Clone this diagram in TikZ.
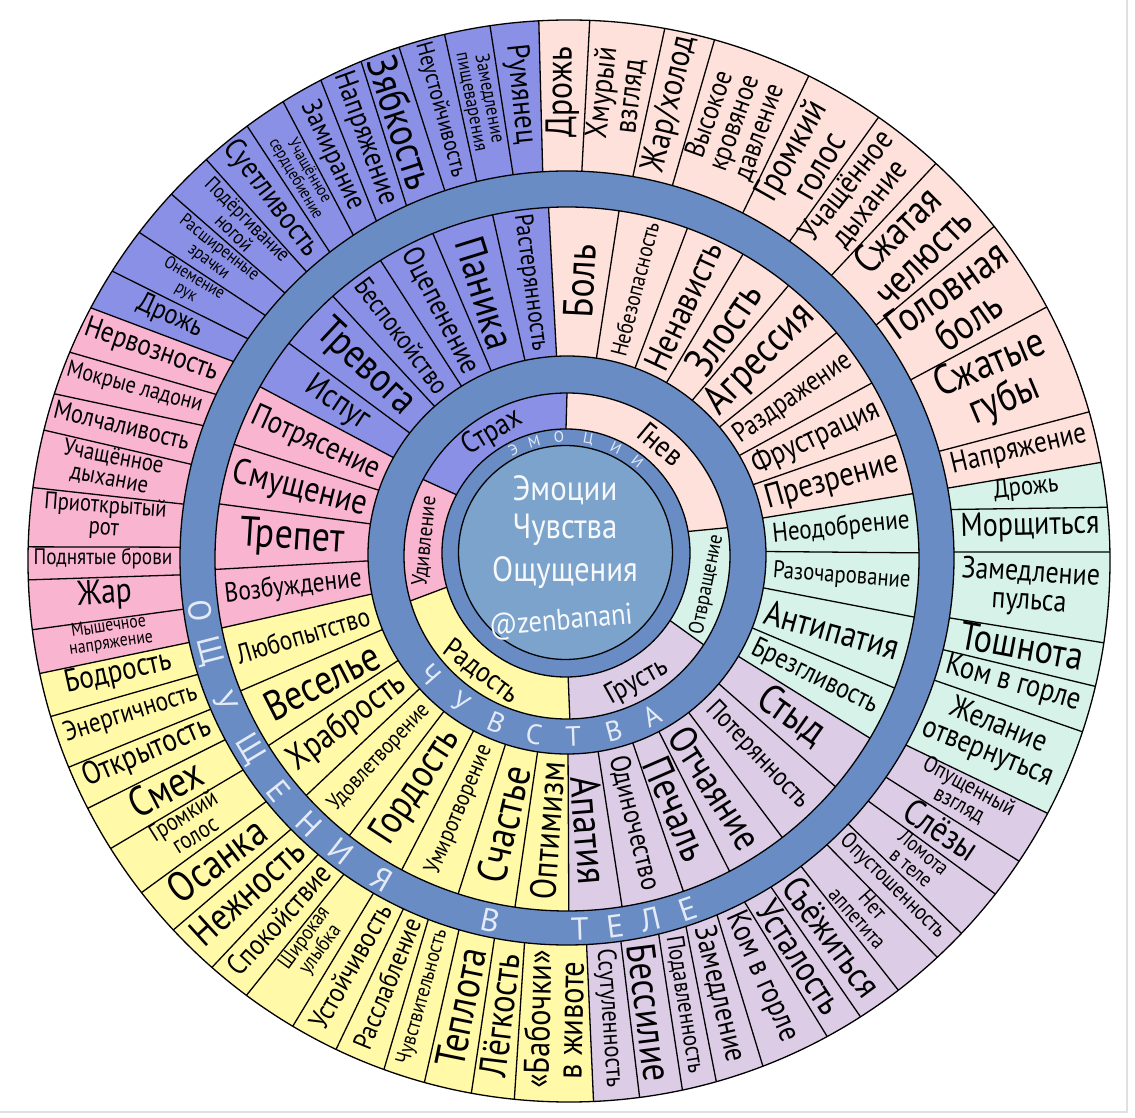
\documentclass[tikz,border=0pt]{standalone}
\usepackage{fontspec}
\setmainfont{PT Sans}
\usepackage{graphicx}
\definecolor{cfear}{HTML}{8B90E7}
\definecolor{canger}{HTML}{FEE1DA}
\definecolor{cdisg}{HTML}{D6F2E9}
\definecolor{csad}{HTML}{DCCCE5}
\definecolor{cjoy}{HTML}{FFF9A8}
\definecolor{csurp}{HTML}{F9B4CF}
\definecolor{ringb}{HTML}{6A8CC5}
\definecolor{coreb}{HTML}{7BA3CB}
\definecolor{rtext}{HTML}{E4EBF6}
\newcommand\efont[1]{\fontsize{#1}{#1}\selectfont}
\newsavebox\lbox
\newdimen\lbw \newdimen\lbh
% #1 o1 #2 o2 #3 i1 #4 i2 #5 rin #6 rout #7 text
\newcommand\wlab[7]{%
 \pgfmathsetmacro\oam{(#1+#2)/2}%
 \pgfmathsetmacro\iam{(#3+#4)/2}%
 \pgfmathsetmacro\xin{#5*cos(\iam)}%
 \pgfmathsetmacro\yin{#5*sin(\iam)}%
 \pgfmathsetmacro\xou{#6*cos(\oam)}%
 \pgfmathsetmacro\you{#6*sin(\oam)}%
 \pgfmathsetmacro\ldir{atan2(\you-\yin,\xou-\xin)}%
 \pgfmathsetmacro\ldirp{mod(\ldir+720,360)}%
 \pgfmathsetmacro\lrot{ifthenelse(\ldirp>91,ifthenelse(\ldirp<271,\ldirp-180,\ldirp),\ldirp)}%
 \pgfmathsetmacro\llen{veclen(\xou-\xin,\you-\yin)}%
 \pgfmathsetmacro\lwid{(#5+#6)/2*0.0087266*((#2-#1)+(#4-#3))}%
 \node[inner sep=0pt,outer sep=0pt] at (0,0) {\global\setbox\lbox=\hbox{\vbox{\fontsize{10}{9.2}\selectfont\lineskiplimit=-5pt\halign{\hfil##\hfil\cr #7\crcr}}}};%
 \global\lbw=\wd\lbox \global\lbh=\ht\lbox \global\advance\lbh by \dp\lbox
 \ifdim\lbw<1pt \global\lbw=40pt\fi
 \ifdim\lbh<1pt \global\lbh=8pt\fi
 \pgfmathsetmacro\lwn{\lbw}%
 \pgfmathsetmacro\lhn{\lbh}%
 \pgfmathsetmacro\ltf{ifthenelse(\lhn>14,0.86,0.74)}%
 \pgfmathsetmacro\lsc{min(0.9*\llen/(0.85*\lwn),\ltf*\lwid/\lhn,4.2)}%
 \pgfmathsetmacro\lscx{0.85*\lsc}%
 \node[rotate=\lrot,inner sep=0pt] at ({(\xin+\xou)/2},{(\yin+\you)/2}) {\scalebox{\lscx}[\lsc]{\usebox\lbox}};%
}
\newcommand\snl[5]{\wlab{#1}{#2}{#3}{#4}{387}{541}{#5}}
\newcommand\fel[3]{\wlab{#1}{#2}{#1}{#2}{199}{352}{#3}}
% color, Ci, ri, Co, ro, o1, o2, i1, i2
\newcommand\gfill[9]{\fill[#1] ([shift={(#2)}]#8:#3) -- ([shift={(#4)}]#6:#5) arc[start angle=#6,end angle=#7,radius=#5] -- ([shift={(#2)}]#9:#3) arc[start angle=#9,end angle=#8,radius=#3] -- cycle;}
\begin{document}
\begin{tikzpicture}[x=1pt,y=1pt,
  sep/.style={line width=1.3pt,draw=black},
  rlet/.style={text=rtext,inner sep=0pt},
  ctext/.style={text=white!94!coreb,inner sep=0pt}]
\fill[white] (-567,-562) rectangle (568,556);
\useasboundingbox (-567,-562) rectangle (568,556);
\draw[black!12,line width=1.5pt] (560,556) -- (560,-556) -- (-567,-556);
\coordinate (C6) at (2,-5);
\coordinate (C5) at (0,-2);
\coordinate (C4) at (0,-3);
\coordinate (C3) at (0,1);
\coordinate (C2) at (0,0);
\coordinate (C1) at (-1,3);
\coordinate (C0) at (-1.5,3.5);
% sensations ring
\gfill{canger}{C5}{387}{C6}{541}{10.5}{93.2}{10.4}{93.6}
\gfill{cfear}{C5}{387}{C6}{541}{93.2}{152.1}{93.6}{149.5}
\gfill{csurp}{C5}{387}{C6}{541}{152.1}{192}{149.5}{192.6}
\gfill{cjoy}{C5}{387}{C6}{541}{192}{272.6}{192.6}{272.9}
\gfill{csad}{C5}{387}{C6}{541}{272.6}{332.2}{272.9}{331.1}
\gfill{cdisg}{C5}{387}{C6}{541}{332.2}{370.5}{331.1}{370.4}
\fill[ringb,even odd rule] (C5) circle[radius=387] (C4) circle[radius=352];
% feelings ring
\gfill{canger}{C3}{199}{C4}{352}{10.7}{93}{10.7}{93}
\gfill{cfear}{C3}{199}{C4}{352}{93}{150.7}{93}{150.7}
\gfill{csurp}{C3}{199}{C4}{352}{150.7}{191.3}{150.7}{191.3}
\gfill{cjoy}{C3}{199}{C4}{352}{191.3}{270.3}{191.3}{270.3}
\gfill{csad}{C3}{199}{C4}{352}{270.3}{329.4}{270.3}{329.4}
\gfill{cdisg}{C3}{199}{C4}{352}{329.4}{370.7}{329.4}{370.7}
\fill[ringb,even odd rule] (C3) circle[radius=199] (C2) circle[radius=163];
% emotions ring
\gfill{canger}{C1}{124}{C2}{163}{10}{90}{10}{90}
\gfill{cfear}{C1}{124}{C2}{163}{90}{152}{90}{152}
\gfill{csurp}{C1}{124}{C2}{163}{152}{196}{152}{196}
\gfill{cjoy}{C1}{124}{C2}{163}{196}{271}{196}{271}
\gfill{csad}{C1}{124}{C2}{163}{271}{327}{271}{327}
\gfill{cdisg}{C1}{124}{C2}{163}{327}{370}{327}{370}
\fill[ringb,even odd rule] (C1) circle[radius=124] (C0) circle[radius=107];
\fill[coreb] (C0) circle[radius=107];
% separators
\foreach \o/\i in {10.5/10.4,16/16,28/27.4,38.2/37,47.3/46.9,55.1/54.9,63.7/63,74.4/74.2,79.8/80.2,87.8/87.8,93.2/93.6,98.4/98,103.3/103.5,108.3/108.4,112.6/114.5,117.3/119.5,121.9/123.5,126.5/127.8,132.1/132.3,137.3/136.8,142.6/141.2,147.6/145.5,152.1/149.5,157.3/155,162/160,166/166,172.2/172,178.5/178.4,182/182.5,187.3/187.6,192/192.6,196.7/197.5,202.4/203,207.2/208,212.1/213.2,217.8/219,223/224.5,228.7/230,233.4/234.8,239.3/240,244.5/245,250/249,254.5/253.8,259.6/259.2,264.2/263.7,272.6/272.9,277.5/278,282.1/283.7,285.8/287.9,291/292.8,298.5/297.3,302.6/301.8,307.5/307.2,312.9/312.2,316.5/316.6,322/321.1,326.3/325.5,332.2/331.1,341.6/341.6,346.6/346.3,351.3/351.1,360.95/360.9,365.7/367.2}
  \draw[sep] ([shift={(C5)}]\i:387) -- ([shift={(C6)}]\o:541);
\foreach \a in {10.7,20.7,30,40,51,60,70,81.5,93,102.2,112.4,122,131.7,142.2,150.7,161,171,181.7,191.3,202,212,222.2,231.8,242,252,261.5,270.3,279,289.3,297.5,307.7,319.7,329.4,338.5,350.5,361}
  \draw[sep] ([shift={(C3)}]\a:199) -- ([shift={(C4)}]\a:352);
\foreach \a in {10,90,152,196,271,327}
  \draw[sep] ([shift={(C1)}]\a:124) -- ([shift={(C2)}]\a:163);
\draw[sep] (C6) circle[radius=541];
\draw[sep] (C5) circle[radius=387];
\draw[sep] (C4) circle[radius=352];
\draw[sep] (C3) circle[radius=199];
\draw[sep] (C2) circle[radius=163];
\draw[sep] (C1) circle[radius=124];
\draw[sep] (C0) circle[radius=107];
% sensation labels
\snl{10.5}{16}{10.4}{16}{Напряжение}
\snl{16}{28}{16}{27.4}{Сжатые\cr губы}
\snl{28}{38.2}{27.4}{37}{Головная\cr боль}
\snl{38.2}{47.3}{37}{46.9}{Сжатая\cr челюсть}
\snl{47.3}{55.1}{46.9}{54.9}{Учащённое\cr дыхание}
\snl{55.1}{63.7}{54.9}{63}{Громкий\cr голос}
\snl{63.7}{74.4}{63}{74.2}{Высокое\cr кровяное\cr давление}
\snl{74.4}{79.8}{74.2}{80.2}{Жар/холод}
\snl{79.8}{87.8}{80.2}{87.8}{Хмурый\cr взгляд}
\snl{87.8}{93.2}{87.8}{93.6}{Дрожь}
\snl{93.2}{98.4}{93.6}{98}{Румянец}
\snl{98.4}{103.3}{98}{103.5}{Замедление\cr пищеварения}
\snl{103.3}{108.3}{103.5}{108.4}{Неустойчивость}
\snl{108.3}{112.6}{108.4}{114.5}{Зябкость}
\snl{112.6}{117.3}{114.5}{119.5}{Напряжение}
\snl{117.3}{121.9}{119.5}{123.5}{Замирание}
\snl{121.9}{126.5}{123.5}{127.8}{Учащённое\cr сердцебиение}
\snl{126.5}{132.1}{127.8}{132.3}{Суетливость}
\snl{132.1}{137.3}{132.3}{136.8}{Подёргивание\cr ногой}
\snl{137.3}{142.6}{136.8}{141.2}{Расширенные\cr зрачки}
\snl{142.6}{147.6}{141.2}{145.5}{Онемение\cr рук}
\snl{147.6}{152.1}{145.5}{149.5}{Дрожь}
\snl{152.1}{157.3}{149.5}{155}{Нервозность}
\snl{157.3}{162}{155}{160}{Мокрые ладони}
\snl{162}{166}{160}{166}{Молчаливость}
\snl{166}{172.2}{166}{172}{Учащённое\cr дыхание}
\snl{172.2}{178.5}{172}{178.4}{Приоткрытый\cr рот}
\snl{178.5}{182}{178.4}{182.5}{Поднятые брови}
\snl{182}{187.3}{182.5}{187.6}{Жар}
\snl{187.3}{192}{187.6}{192.6}{Мышечное\cr напряжение}
\snl{192}{196.7}{192.6}{197.5}{Бодрость}
\snl{196.7}{202.4}{197.5}{203}{Энергичность}
\snl{202.4}{207.2}{203}{208}{Открытость}
\snl{207.2}{212.1}{208}{213.2}{Смех}
\snl{212.1}{217.8}{213.2}{219}{Громкий\cr голос}
\snl{217.8}{223}{219}{224.5}{Осанка}
\snl{223}{228.7}{224.5}{230}{Нежность}
\snl{228.7}{233.4}{230}{234.8}{Спокойствие}
\snl{233.4}{239.3}{234.8}{240}{Широкая\cr улыбка}
\snl{239.3}{244.5}{240}{245}{Устойчивость}
\snl{244.5}{250}{245}{249}{Расслабление}
\snl{250}{254.5}{249}{253.8}{Чувствительность}
\snl{254.5}{259.6}{253.8}{259.2}{Теплота}
\snl{259.6}{264.2}{259.2}{263.7}{Лёгкость}
\snl{264.2}{272.6}{263.7}{272.9}{«Бабочки»\cr в животе}
\snl{272.6}{277.5}{272.9}{278}{Ссутуленность}
\snl{277.5}{282.1}{278}{283.7}{Бессилие}
\snl{282.1}{285.8}{283.7}{287.9}{Подавленность}
\snl{285.8}{291}{287.9}{292.8}{Замедление}
\snl{291}{298.5}{292.8}{297.3}{Ком в горле}
\snl{298.5}{302.6}{297.3}{301.8}{Усталость}
\snl{302.6}{307.5}{301.8}{307.2}{Съёжиться}
\snl{307.5}{312.9}{307.2}{312.2}{Нет\cr аппетита}
\snl{312.9}{316.5}{312.2}{316.6}{Опустошенность}
\snl{316.5}{322}{316.6}{321.1}{Ломота\cr в теле}
\snl{322}{326.3}{321.1}{325.5}{Слёзы}
\snl{326.3}{332.2}{325.5}{331.1}{Опущенный\cr взгляд}
\snl{332.2}{341.6}{331.1}{341.6}{Желание\cr отвернуться}
\snl{341.6}{346.6}{341.6}{346.3}{Ком в горле}
\snl{346.6}{351.3}{346.3}{351.1}{Тошнота}
\snl{351.3}{360.95}{351.1}{360.9}{Замедление\cr пульса}
\snl{360.95}{365.7}{360.9}{367.2}{Морщиться}
\snl{365.7}{370.5}{367.2}{370.4}{Дрожь}
% feelings labels
\fel{10.7}{20.7}{Презрение}
\fel{20.7}{30}{Фрустрация}
\fel{30}{40}{Раздражение}
\fel{40}{51}{Агрессия}
\fel{51}{60}{Злость}
\fel{60}{70}{Ненависть}
\fel{70}{81.5}{Небезопасность}
\fel{81.5}{93}{Боль}
\fel{93}{102.2}{Растерянность}
\fel{102.2}{112.4}{Паника}
\fel{112.4}{122}{Оцепенение}
\fel{122}{131.7}{Беспокойство}
\fel{131.7}{142.2}{Тревога}
\fel{142.2}{150.7}{Испуг}
\fel{150.7}{161}{Потрясение}
\fel{161}{171}{Смущение}
\fel{171}{181.7}{Трепет}
\fel{181.7}{191.3}{Возбуждение}
\fel{191.3}{202}{Любопытство}
\fel{202}{212}{Веселье}
\fel{212}{222.2}{Храбрость}
\fel{222.2}{231.8}{Удовлетворение}
\fel{231.8}{242}{Гордость}
\fel{242}{252}{Умиротворение}
\fel{252}{261.5}{Счастье}
\fel{261.5}{270.3}{Оптимизм}
\fel{270.3}{279}{Апатия}
\fel{279}{289.3}{Одиночество}
\fel{289.3}{297.5}{Печаль}
\fel{297.5}{307.7}{Отчаяние}
\fel{307.7}{319.7}{Потерянность}
\fel{319.7}{329.4}{Стыд}
\fel{329.4}{338.5}{Брезгливость}
\fel{338.5}{350.5}{Антипатия}
\fel{350.5}{361}{Разочарование}
\fel{361}{370.7}{Неодобрение}
% emotion labels
\node[inner sep=0pt,rotate=-40] (gnev) at (50:146) {\scalebox{0.88}[1]{\efont{30}Гнев}};
\node[inner sep=0pt,rotate=31] (strah) at (121:144) {\scalebox{0.88}[1]{\efont{30}Страх}};
\node[inner sep=0pt,rotate=84] (udiv) at (174:143) {\scalebox{0.88}[1]{\efont{22}Удивление}};
\node[inner sep=0pt,rotate=-36.5] (rad) at (233.5:144) {\scalebox{0.88}[1]{\efont{29}Радость}};
\node[inner sep=0pt,rotate=29] (grust) at (299:144) {\scalebox{0.88}[1]{\efont{29}Грусть}};
\node[inner sep=0pt,rotate=78.5] (otvr) at (348.5:143) {\scalebox{0.88}[1]{\efont{21}Отвращение}};
% ring letters
\foreach \a/\l [count=\n] in {117/Э,106/М,93.5/О,79/Ц,64.5/И,52/И}
  \node[rlet,font={\efont{15}},rotate=\a-90] (em\n) at ([shift={(C1)}]\a:116) {\l};
\foreach \a/\l [count=\n] in {221/Ч,234/У,247/В,259.5/С,272/Т,285/В,298/А}
  \node[rlet,font={\efont{28}},rotate=\a+90] (ch\n) at ([shift={(C2)}]\a:181) {\l};
\foreach \a/\l [count=\n] in {188/О,194.5/Щ,202.7/У,211/Щ,218.8/Е,225.7/Н,232.3/И,240/Я,258/В,272/Т,277.5/Е,283/Л,289/Е}
  \node[rlet,font={\efont{32}},rotate=\a+90] (os\n) at ([shift={(C4)}]\a:370) {\l};
% center text
\node[ctext] (t1) at (-2,66) {\scalebox{0.88}[1]{\efont{35}Эмоции}};
\node[ctext] (t2) at (-2,26) {\scalebox{0.88}[1]{\efont{35}Чувства}};
\node[ctext] (t3) at (-2,-17) {\scalebox{0.88}[1]{\efont{35}Ощущения}};
\node[ctext,rotate=5] (t4) at (-6,-66) {\scalebox{0.88}[1]{\efont{30}@zenbanani}};
\end{tikzpicture}
\end{document}
